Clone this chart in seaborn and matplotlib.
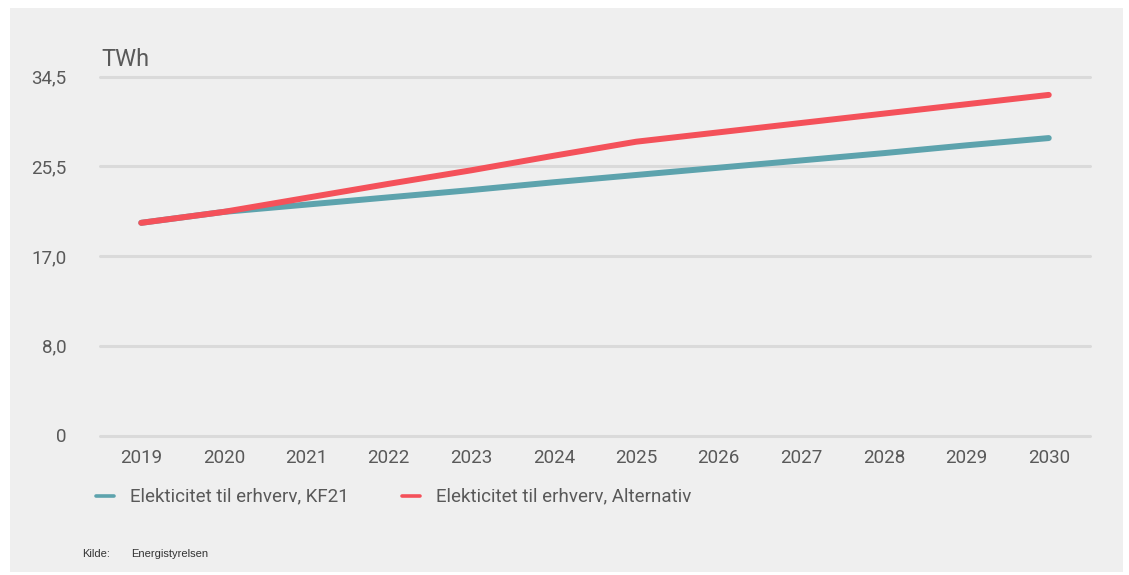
import numpy as np
import pandas as pd
import seaborn as sns
import matplotlib.pyplot as plt
from matplotlib.patches import Rectangle

# Data (TWh)
years = [2019, 2020, 2021, 2022, 2023, 2024, 2025, 2026, 2027, 2028, 2029, 2030]
kf21 = [20.45, 21.5, 22.2, 22.9, 23.6, 24.35, 25.05, 25.75, 26.45, 27.15, 27.9, 28.6]
alternativ = [20.45, 21.5, 22.85, 24.2, 25.5, 26.9, 28.25, 29.15, 30.05, 30.95, 31.85, 32.75]
series_names = ["Elekticitet til erhverv, KF21", "Elekticitet til erhverv, Alternativ"]
ytick_labels = ["0", "8,0", "17,0", "25,5", "34,5"]

colors = ["#5DA3AD", "#F4515A"]
text_col = "#595959"
bg = "#EFEFEF"

df = pd.DataFrame({
    "year": [str(y) for y in years] * 2,
    "value": kf21 + alternativ,
    "serie": [series_names[0]] * len(years) + [series_names[1]] * len(years),
})

sns.set_style("white")
plt.rcParams["font.family"] = ["Roboto", "DejaVu Sans"]

fig = plt.figure(figsize=(11.29, 5.75), dpi=100)
fig.patch.set_facecolor("white")
fig.patches.append(Rectangle((10 / 1129, 3 / 575), 1113 / 1129, 564 / 575,
                             transform=fig.transFigure, facecolor=bg,
                             edgecolor="none", zorder=-5))

ax = fig.add_axes([100 / 1129, 1 - 435.5 / 575, 990 / 1129, 358.8 / 575])
ax.set_facecolor("none")
ax.set_zorder(2)

sns.lineplot(data=df, x="year", y="value", hue="serie", palette=colors,
             linewidth=4.3, ax=ax, legend=False, sort=False)
for ln in ax.lines:
    ln.set_solid_capstyle("round")
    ln.set_zorder(3)

ax.set_xlim(-0.5, len(years) - 0.5)
ax.set_ylim(0, 34.5)
ax.set_yticks(np.linspace(0, 34.5, 5))
ax.set_yticklabels(ytick_labels)
ax.yaxis.grid(True, color="#DADADA", linewidth=2.2)
ax.xaxis.grid(False)
ax.set_axisbelow(True)
for g in ax.get_ygridlines():
    g.set_clip_on(False)
for s in ax.spines.values():
    s.set_visible(False)
ax.tick_params(axis="both", length=0, labelsize=13.5, labelcolor=text_col)
ax.tick_params(axis="y", pad=24)
ax.tick_params(axis="x", pad=10)
ax.set_xlabel("")
ax.set_ylabel("")

fig.text(101 / 1129, 1 - 60 / 575, "TWh", fontsize=17, color=text_col,
         ha="left", va="center")

# legend
for i, name in enumerate(series_names):
    x0 = [96, 402][i]
    fig.add_artist(plt.Line2D([x0 / 1129, (x0 + 18) / 1129],
                              [1 - 496 / 575] * 2, color=colors[i],
                              linewidth=2.6, transform=fig.transFigure))
    fig.text((x0 + 34) / 1129, 1 - 496 / 575, name, fontsize=13.5,
             color=text_col, ha="left", va="center")

fig.text(82 / 1129, 1 - 554 / 575, "Kilde:", fontsize=8, color="#333333",
         ha="left", va="center", family=["Liberation Sans Narrow", "Liberation Sans"])
fig.text(131 / 1129, 1 - 554 / 575, "Energistyrelsen", fontsize=8,
         color="#333333", ha="left", va="center",
         family=["Liberation Sans Narrow", "Liberation Sans"])

fig.savefig("out.png", dpi=100)
